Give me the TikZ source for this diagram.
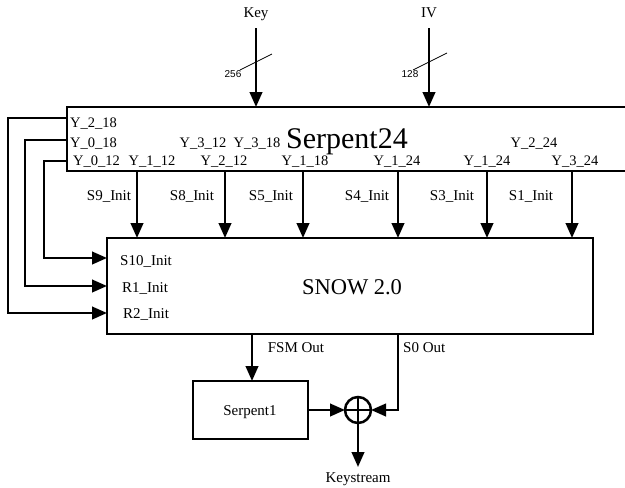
\documentclass[tikz,border=0pt]{standalone}
\usepackage{fontspec}
\setmainfont{Liberation Serif}
\newfontfamily\arialfont{Liberation Sans}
\usetikzlibrary{arrows.meta}
\begin{document}
\begin{tikzpicture}[x=1pt,y=-1pt,
  lbl/.style={font=\fontsize{15}{15}\selectfont, inner sep=0pt},
  ylbl/.style={font=\fontsize{14.5}{14.5}\selectfont, inner sep=0pt, anchor=base},
  num/.style={font=\arialfont\fontsize{10}{10}\selectfont, inner sep=0pt, anchor=base},
  box/.style={draw, line width=2.5pt, inner sep=0pt, outer sep=0pt, rectangle},
  arr/.style={line width=2.5pt, -{Triangle[length=15pt,width=12.5pt]}},
  slash/.style={line width=0.8pt}]
\useasboundingbox (0,0) rectangle (625,488);
\clip (0,0) rectangle (625,488);

% boxes
\node[box, minimum width=575pt, minimum height=64pt, anchor=north west] (serp24) at (67,107) {};
\node[font=\fontsize{30}{30}\selectfont, inner sep=0pt, anchor=base] (serptitle) at (347,148) {Serpent24};
\node[box, minimum width=486pt, minimum height=96pt, anchor=north west] (snow) at (107,238) {};
\node[font=\fontsize{22.5}{22.5}\selectfont, inner sep=0pt, anchor=base] (snowtitle) at (352,294) {SNOW 2.0};
\node[box, minimum width=115pt, minimum height=58pt, anchor=north west] (s1) at (193,381) {};
\node[lbl, anchor=base] (s1t) at (250,415) {Serpent1};
\coordinate (xorx) at (358,0);
\node[draw, circle, line width=2.5pt, outer sep=0pt, minimum size=26pt, inner sep=0pt] (xor) at (xorx |- s1.east) {};
\draw[line width=2.5pt] (xor.north) -- (xor.south) (xor.west) -- (xor.east);

% Serpent24 output labels
\node[ylbl, anchor=base west] (y218) at (70,127) {Y\_2\_18};
\node[ylbl, anchor=base west] (y018) at (70,147.5) {Y\_0\_18};
\node[ylbl, anchor=base west] (y012) at (73,165) {Y\_0\_12};
\node[ylbl] (y112) at (152,165) {Y\_1\_12};
\node[ylbl] (y312) at (203,147.5) {Y\_3\_12};
\node[ylbl] (y318) at (257,147.5) {Y\_3\_18};
\node[ylbl] (y212) at (224,165) {Y\_2\_12};
\node[ylbl] (y118) at (305,165) {Y\_1\_18};
\node[ylbl] (y124a) at (397,165) {Y\_1\_24};
\node[ylbl] (y124b) at (487,165) {Y\_1\_24};
\node[ylbl] (y224) at (534,147.5) {Y\_2\_24};
\node[ylbl] (y324) at (575,165) {Y\_3\_24};

% inputs
\node[lbl, anchor=base] (key) at (256,17) {Key};
\node[lbl, anchor=base] (iv) at (429,17) {IV};
\coordinate (keyin) at (256,28);
\coordinate (ivin) at (429,28);
\draw[arr] (keyin) -- (keyin |- serp24.north);
\draw[arr] (ivin) -- (ivin |- serp24.north);
\draw[slash] (240,70) -- (272,54);
\draw[slash] (413,70) -- (447,53);
\node[num] (k256) at (233,77) {256};
\node[num] (v128) at (410,77) {128};

% init arrows
\foreach \x/\lab/\lx [count=\i] in {137/S9\_Init/109, 225/S8\_Init/192, 303/S5\_Init/271, 398/S4\_Init/367, 487/S3\_Init/452, 572/S1\_Init/531}{
  \coordinate (ia\i) at (\x,0);
  \draw[arr] (ia\i |- serp24.south) -- (ia\i |- snow.north);
  \node[lbl, anchor=base] (il\i) at (\lx,200) {\lab};
}

% feedback loops
\coordinate (fb1) at (8,118);   \coordinate (fb1e) at (0,313);
\coordinate (fb2) at (25,140);  \coordinate (fb2e) at (0,286);
\coordinate (fb3) at (44,161);  \coordinate (fb3e) at (0,258);
\draw[arr] (fb1 -| serp24.west) -- (fb1) -- (fb1 |- fb1e) -- (fb1e -| snow.west);
\draw[arr] (fb2 -| serp24.west) -- (fb2) -- (fb2 |- fb2e) -- (fb2e -| snow.west);
\draw[arr] (fb3 -| serp24.west) -- (fb3) -- (fb3 |- fb3e) -- (fb3e -| snow.west);
\node[lbl, anchor=base west] (s10) at (120,265) {S10\_Init};
\node[lbl, anchor=base west] (r1) at (122,292.5) {R1\_Init};
\node[lbl, anchor=base west] (r2) at (123,318) {R2\_Init};

% outputs
\coordinate (fsm) at (252,0);
\coordinate (s0) at (398,0);
\draw[arr] (fsm |- snow.south) -- (fsm |- s1.north);
\node[lbl, anchor=base] (fsml) at (296,352) {FSM Out};
\draw[arr] (s0 |- snow.south) -- (s0 |- xor.east) -- (xor.east);
\node[lbl, anchor=base west] (s0l) at (403,352) {S0 Out};
\draw[arr] (s1.east) -- (xor.west);
\coordinate (ks) at (358,467);
\draw[arr] (xor.south) -- (ks);
\node[lbl, anchor=base] (ksl) at (358,482) {Keystream};
\end{tikzpicture}
\end{document}
